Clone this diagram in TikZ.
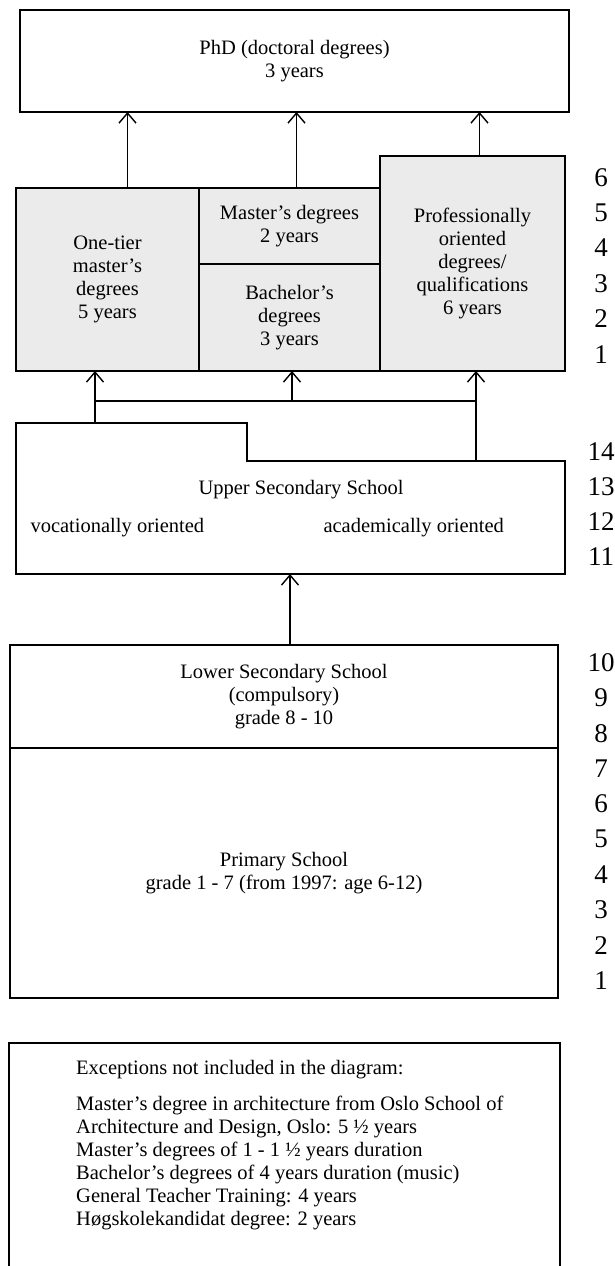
\documentclass[tikz,border=0pt]{standalone}
\usepackage{fontspec}
\setmainfont{Liberation Serif}
\usetikzlibrary{arrows.meta, positioning, calc}

\begin{document}
\begin{tikzpicture}[
    x=1pt, y=-1pt,
    font=\fontsize{20.5}{23}\selectfont,
    box/.style={rectangle, draw, line width=1.4pt, inner sep=0pt, outer sep=0pt, align=center, anchor=north west},
    tier/.style={box, fill=black!8},
    outline/.style={draw, line width=1.4pt},
    arrow/.style={-{Straight Barb[length=10pt, width=17pt]}, line width=1.4pt},
    grade/.style={font=\fontsize{27}{27}\selectfont}
]
\useasboundingbox (0,0) rectangle (615,1266);

% Doctoral level
\node[box, minimum width=549pt, minimum height=102pt] (phd) at (20,10) {PhD (doctoral degrees)\\3 years};

% Higher education blocks
\node[tier, minimum width=183pt, minimum height=183pt] (onetier) at (16,188) {One-tier\\master's\\degrees\\5 years};
\node[tier, minimum width=181pt, minimum height=76pt] (master) at (199,188) {Master's degrees\\2 years};
\node[tier, minimum width=181pt, minimum height=107pt] (bachelor) at (199,264) {Bachelor's\\degrees\\3 years};
\node[tier, minimum width=185pt, minimum height=215pt] (prof) at (380,156) {Professionally\\oriented\\degrees/\\qualifications\\6 years};

% Upper secondary school (stepped outline)
\draw[outline] (16,423) -- (247,423) -- (247,461) -- (565,461) -- (565,574) -- (16,574) -- cycle;
\node (upper) at (301,490) {Upper Secondary School};
\node[anchor=west] (voc) at (27,528) {vocationally oriented};
\node[anchor=west] (acad) at (320,528) {academically oriented};
\coordinate (usleft) at (95,423);
\coordinate (usright) at (476,461);
\coordinate (usbar) at (292,401);
\coordinate (usbottom) at (290,574);

% Compulsory school
\node[box, minimum width=548pt, minimum height=103pt] (lowersec) at (10,645) {Lower Secondary School\\(compulsory)\\grade 8 - 10};
\node[box, minimum width=548pt, minimum height=250pt] (primary) at (10,748) {Primary School\\grade 1 - 7 (from 1997: age 6-12)};

% Arrows to PhD
\coordinate (a1) at ([xshift=20pt]onetier.north);
\coordinate (a2) at ([xshift=7pt]master.north);
\coordinate (a3) at ([xshift=7pt]prof.north);
\draw[arrow] (a1) -- (a1 |- phd.south);
\draw[arrow] (a2) -- (a2 |- phd.south);
\draw[arrow] (a3) -- (a3 |- phd.south);

% Arrows from upper secondary
\draw[arrow] (usleft) -- (usleft |- onetier.south);
\draw[arrow] (usright) -- (usright |- prof.south);
\draw[outline] (usleft |- usbar) -- (usright |- usbar);
\draw[arrow] (usbar) -- (usbar |- bachelor.south);
\draw[arrow] ([xshift=6pt]lowersec.north) -- (usbottom);

% Grade numbers
\foreach \n in {1,...,6}
    \node[grade] (hg\n) at (601,{372-(\n-0.5)*35.4}) {\n};
\foreach \n in {11,...,14}
    \node[grade] (ug\n) at (601,{574-(\n-10.5)*35}) {\n};
\foreach \n in {1,...,10}
    \node[grade] (cg\n) at (601,{998-(\n-0.5)*35.3}) {\n};

% Exceptions
\draw[outline] (9,1266) -- (9,1043) -- (560,1043) -- (560,1266);
\node[anchor=north west, align=left, inner sep=0pt] (exc) at (76,1060) {Exceptions not included in the diagram:\\[13pt]
Master's degree in architecture from Oslo School of\\
Architecture and Design, Oslo: 5 ½ years\\
Master's degrees of 1 - 1 ½ years duration\\
Bachelor's degrees of 4 years duration (music)\\
General Teacher Training: 4 years\\
Høgskolekandidat degree: 2 years};

\end{tikzpicture}
\end{document}
